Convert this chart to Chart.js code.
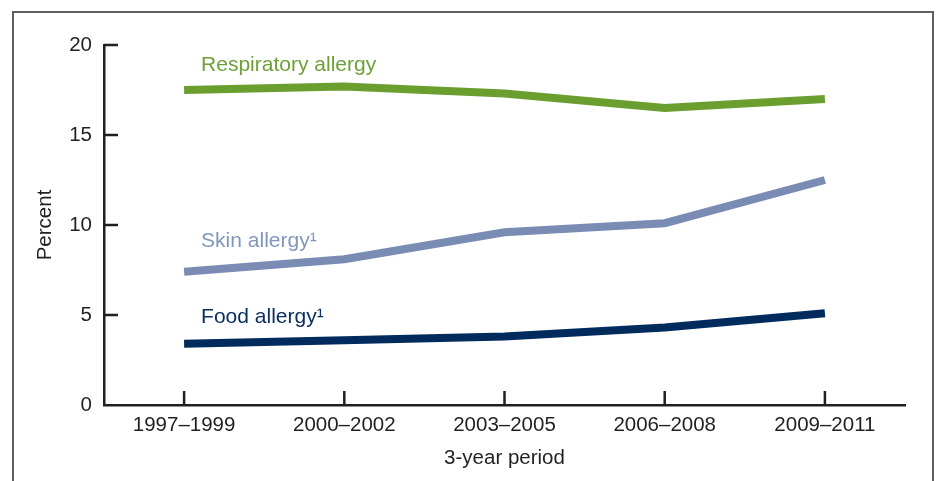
<!DOCTYPE html>
<html>
<head>
<meta charset="utf-8">
<script src="https://cdn.jsdelivr.net/npm/chart.js@4"></script>
<style>
  html, body { margin: 0; padding: 0; background: #fff; }
  canvas { display: block; }
</style>
</head>
<body>
<canvas id="myChart" width="938" height="481"></canvas>
<script>
// data
const periods = ["1997\u20131999", "2000\u20132002", "2003\u20132005", "2006\u20132008", "2009\u20132011"];
const respiratory = [17.5, 17.7, 17.3, 16.5, 17.0];
const skin = [7.4, 8.1, 9.6, 10.1, 12.5];
const food = [3.4, 3.6, 3.8, 4.3, 5.1];
const seriesNames = ["Respiratory allergy", "Skin allergy\u00b9", "Food allergy\u00b9"];
const yTicks = [0, 5, 10, 15, 20];

const colors = ["#6a9e2f", "#7a8cb4", "#002b5c"];
const textColors = ["#6ca135", "#8096bd", "#0b2f60"];
// value where each series label sits (baseline), above the first point
const labelAt = [18.55, 8.8, 4.55];

const axisColor = "#231f20";
const tickFont = { family: "'Liberation Sans', Arial, sans-serif", size: 20.5 };

// frame, inward tick marks and series labels
const extras = {
  id: "extras",
  afterDraw(chart) {
    const ctx = chart.ctx;
    const x = chart.scales.x;
    const y = chart.scales.y;
    ctx.save();

    // outer frame (bottom edge runs off the image)
    ctx.strokeStyle = "#606060";
    ctx.lineWidth = 2;
    ctx.beginPath();
    ctx.moveTo(13, 490);
    ctx.lineTo(13, 12);
    ctx.lineTo(933, 12);
    ctx.lineTo(933, 490);
    ctx.stroke();

    ctx.strokeStyle = axisColor;
    ctx.lineWidth = 2.5;
    ctx.beginPath();
    yTicks.forEach((v) => {
      if (v === 0) return;
      const py = y.getPixelForValue(v);
      ctx.moveTo(x.left, py);
      ctx.lineTo(x.left + 14, py);
    });
    periods.forEach((p, i) => {
      const px = x.getPixelForValue(i);
      ctx.moveTo(px, y.bottom);
      ctx.lineTo(px, y.bottom - 14);
    });
    ctx.stroke();

    ctx.font = "21px 'Liberation Sans', Arial, sans-serif";
    ctx.textAlign = "left";
    ctx.textBaseline = "alphabetic";
    seriesNames.forEach((name, i) => {
      ctx.fillStyle = textColors[i];
      ctx.fillText(name, x.getPixelForValue(0) + 17, y.getPixelForValue(labelAt[i]));
    });
    ctx.restore();
  },
};

const lineSet = (label, data, color) => ({
  label,
  data,
  borderColor: color,
  backgroundColor: color,
  borderWidth: 8,
  borderCapStyle: "butt",
  pointRadius: 0,
  tension: 0,
  fill: false,
});

new Chart(document.getElementById("myChart"), {
  type: "line",
  data: {
    labels: periods,
    datasets: [
      lineSet(seriesNames[0], respiratory, colors[0]),
      lineSet(seriesNames[1], skin, colors[1]),
      lineSet(seriesNames[2], food, colors[2]),
    ],
  },
  options: {
    responsive: false,
    animation: false,
    layout: { padding: { left: 0, right: 33, top: 45, bottom: 0 } },
    plugins: {
      legend: { display: false },
      tooltip: { enabled: false },
    },
    scales: {
      x: {
        type: "category",
        offset: true,
        grid: { display: false, drawTicks: false },
        border: { color: axisColor, width: 2.5 },
        ticks: { color: axisColor, font: tickFont, padding: 8, maxRotation: 0 },
        title: {
          display: true,
          text: "3-year period",
          color: axisColor,
          font: tickFont,
          padding: { top: 0, bottom: 10 },
        },
        afterFit: (s) => { s.height = 76; },
      },
      y: {
        min: 0,
        max: 20,
        grid: { display: false, drawTicks: false },
        border: { color: axisColor, width: 2.5 },
        ticks: { stepSize: 5, color: axisColor, font: tickFont, padding: 12 },
        title: {
          display: true,
          text: "Percent",
          color: axisColor,
          font: tickFont,
          padding: { top: 33, bottom: 0 },
        },
        afterFit: (s) => { s.width = 104; },
      },
    },
  },
  plugins: [extras],
});
</script>
</body>
</html>
